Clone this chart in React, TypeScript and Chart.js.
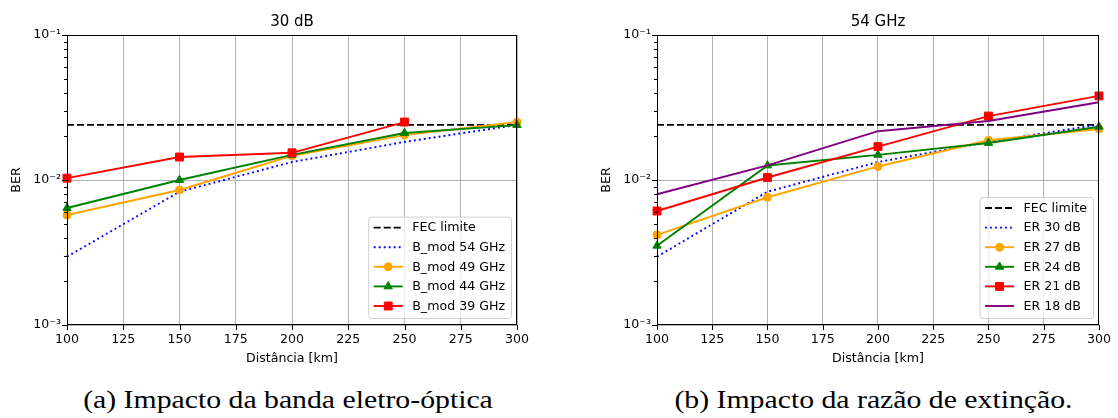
import React, { useEffect, useRef } from 'react';
import { Chart, registerables } from 'chart.js';

Chart.register(...registerables);
Chart.defaults.font.family = '"DejaVu Sans", sans-serif';
Chart.defaults.color = '#000';

// ---------- data ----------
const distances = [100, 150, 200, 250, 300];
const xTicks = [100, 125, 150, 175, 200, 225, 250, 275, 300];
const yDecades = [0.001, 0.01];
const yMax = 0.1;
const yMajorLabels = ['10⁻³', '10⁻²', '10⁻¹'];
const fecLimit = 0.024;
const fecLabel = 'FEC limite';

const leftTitle = '30 dB';
const leftLabels = ['B_mod 54 GHz', 'B_mod 49 GHz', 'B_mod 44 GHz', 'B_mod 39 GHz'];
const bmod54 = [0.00296, 0.0083, 0.0133, 0.0183, 0.024];
const bmod49 = [0.00574, 0.00853, 0.0147, 0.0204, 0.0251];
const bmod44 = [0.00641, 0.0100, 0.0149, 0.0211, 0.0239];
const bmod39 = [0.0103, 0.0144, 0.0154, 0.0251, null];

const rightTitle = '54 GHz';
const rightLabels = ['ER 30 dB', 'ER 27 dB', 'ER 24 dB', 'ER 21 dB', 'ER 18 dB'];
const er30 = [0.00296, 0.0083, 0.0133, 0.0183, 0.0241];
const er27 = [0.00418, 0.0076, 0.0124, 0.0188, 0.0225];
const er24 = [0.00352, 0.0126, 0.0149, 0.0180, 0.0233];
const er21 = [0.00611, 0.0104, 0.0170, 0.0276, 0.0380];
const er18 = [0.00797, 0.0126, 0.0217, 0.0255, 0.0344];

const xTitle = 'Distância [km]';
const yTitle = 'BER';
const captionA = '(a) Impacto da banda eletro-óptica';
const captionB = '(b) Impacto da razão de extinção.';

// ---------- styles ----------
const LW = 1.9;
const styleFec = { color: '#000000', dash: [7, 3], point: false as any, radius: 0 };
const styleBlue = { color: '#0000ff', dash: [1.9, 3.1], point: false as any, radius: 0 };
const styleOrange = { color: '#ffa500', dash: [], point: 'circle', radius: 4 };
const styleGreen = { color: '#008000', dash: [], point: 'triangle', radius: 4.8 };
const styleRed = { color: '#ff0000', dash: [], point: 'rect', radius: 5.6 };
const stylePurple = { color: '#800080', dash: [], point: false as any, radius: 0 };

function makeDataset(label: string, xs: number[], ys: (number | null)[], st: any, order: number) {
  return {
    label,
    data: xs.map((x, i) => ({ x, y: ys[i] })),
    borderColor: st.color,
    backgroundColor: st.color,
    borderWidth: LW,
    borderDash: st.dash,
    borderCapStyle: 'butt',
    pointStyle: st.point,
    pointRadius: st.radius,
    pointBorderWidth: 1,
    pointBorderColor: st.color,
    pointBackgroundColor: st.color,
    tension: 0,
    order,
    clip: 8,
  };
}

function fecDataset(order: number) {
  return makeDataset(fecLabel, [xTicks[0], xTicks[xTicks.length - 1]], [fecLimit, fecLimit], styleFec, order);
}

// ---------- plugins ----------
function drawMarker(ctx: CanvasRenderingContext2D, style: string, x: number, y: number, r: number, color: string) {
  ctx.save();
  ctx.setLineDash([]);
  ctx.fillStyle = color;
  ctx.strokeStyle = color;
  ctx.lineWidth = 1;
  ctx.beginPath();
  if (style === 'circle') {
    ctx.arc(x, y, r, 0, Math.PI * 2);
  } else if (style === 'triangle') {
    const a = (2 * Math.PI) / 3;
    ctx.moveTo(x, y - r);
    ctx.lineTo(x + Math.sin(a) * r, y - Math.cos(a) * r);
    ctx.lineTo(x + Math.sin(2 * a) * r, y - Math.cos(2 * a) * r);
    ctx.closePath();
  } else if (style === 'rect') {
    const s = r * Math.SQRT1_2;
    ctx.rect(x - s, y - s, 2 * s, 2 * s);
  }
  ctx.fill();
  ctx.stroke();
  ctx.restore();
}

const decorPlugin = {
  id: 'decor',
  afterDraw(chart: any, _args: any, opts: any) {
    const { ctx, chartArea: a, scales } = chart;
    ctx.save();
    // ticks
    ctx.strokeStyle = '#000';
    ctx.lineWidth = 1;
    ctx.setLineDash([]);
    ctx.beginPath();
    for (const t of scales.x.ticks) {
      const px = Math.round(scales.x.getPixelForValue(t.value)) + 0.5;
      ctx.moveTo(px, a.bottom);
      ctx.lineTo(px, a.bottom + 5);
    }
    for (const t of scales.y.ticks) {
      const py = Math.round(scales.y.getPixelForValue(t.value)) + 0.5;
      const len = t.major ? 5 : 3;
      ctx.moveTo(a.left - len, py);
      ctx.lineTo(a.left, py);
    }
    ctx.stroke();
    // frame
    const l = Math.round(a.left) + 0.5, r = Math.round(a.right) - 0.5;
    const tp = Math.round(a.top) + 0.5, b = Math.round(a.bottom) - 0.5;
    ctx.strokeRect(l, tp, r - l, b - tp);
    // title
    ctx.fillStyle = '#000';
    ctx.font = '15px "DejaVu Sans"';
    ctx.textAlign = 'center';
    ctx.textBaseline = 'middle';
    ctx.fillText(opts.text, (a.left + a.right) / 2, 22);

    // legend
    const ds = chart.data.datasets;
    ctx.font = '12.6px "DejaVu Sans"';
    const rowH = 19.6, padL = 5.5, handle = 29, gap = 9.5, padR = 6, padT = 11, padB = 12;
    const maxW = Math.max(...ds.map((d: any) => ctx.measureText(d.label).width));
    const w = padL + handle + gap + maxW + padR;
    const h = padT + (ds.length - 1) * rowH + padB;
    const right = a.right - 6;
    const bottom = a.bottom - 7;
    const left = right - w;
    const top = bottom - h;
    ctx.beginPath();
    ctx.roundRect(left + 0.5, top + 0.5, w, h, 3);
    ctx.fillStyle = 'rgba(255,255,255,0.8)';
    ctx.fill();
    ctx.strokeStyle = '#d0d0d0';
    ctx.lineWidth = 1;
    ctx.stroke();
    ds.forEach((d: any, i: number) => {
      const cy = top + padT + i * rowH;
      const x0 = left + padL, x1 = x0 + handle;
      ctx.save();
      ctx.strokeStyle = d.borderColor;
      ctx.lineWidth = d.borderWidth;
      ctx.setLineDash(d.borderDash || []);
      ctx.beginPath();
      ctx.moveTo(x0, cy);
      ctx.lineTo(x1, cy);
      ctx.stroke();
      ctx.restore();
      if (d.pointStyle && d.pointRadius > 0) {
        drawMarker(ctx, d.pointStyle, (x0 + x1) / 2, cy, d.pointRadius, d.borderColor);
      }
      ctx.fillStyle = '#000';
      ctx.textAlign = 'left';
      ctx.textBaseline = 'middle';
      ctx.fillText(d.label, x1 + gap, cy + 0.5);
    });
    ctx.restore();
  },
};

function buildYTicks() {
  const ticks: any[] = [];
  yDecades.forEach((d) => {
    for (let m = 1; m <= 9; m++) ticks.push({ value: m * d, major: m === 1 });
  });
  ticks.push({ value: yMax, major: true });
  return ticks;
}

function makeOptions(title: string, padLeft: number, padRight: number) {
  return {
    responsive: false,
    animation: false,
    events: [],
    layout: { padding: { left: padLeft, right: padRight, top: 35, bottom: 0 } },
    plugins: {
      legend: { display: false },
      tooltip: { enabled: false },
      title: { display: false },
      decor: { text: title },
    },
    scales: {
      x: {
        type: 'linear',
        min: xTicks[0],
        max: xTicks[xTicks.length - 1],
        afterBuildTicks: (s: any) => {
          s.ticks = xTicks.map((v) => ({ value: v }));
        },
        afterFit: (s: any) => {
          s.height = 45;
        },
        ticks: { autoSkip: false, maxRotation: 0, padding: 7, font: { size: 12.6 }, color: '#000' },
        grid: { color: '#b0b0b0', lineWidth: 1, drawTicks: false },
        border: { display: false },
        title: { display: true, text: xTitle, font: { size: 12.6 }, color: '#000', padding: { top: 0, bottom: 4 } },
      },
      y: {
        type: 'logarithmic',
        min: yDecades[0],
        max: yMax,
        afterBuildTicks: (s: any) => {
          s.ticks = buildYTicks();
        },
        afterFit: (s: any) => {
          s.width = 67;
        },
        ticks: {
          autoSkip: false,
          padding: 6,
          font: { size: 12.6 },
          color: '#000',
          callback: (_v: any, i: number, ticks: any[]) => {
            if (!ticks[i].major) return '';
            const e = Math.round(Math.log10(ticks[i].value));
            return yMajorLabels[e + 3];
          },
        },
        grid: {
          color: (c: any) => (c.tick && c.tick.major ? '#b0b0b0' : 'rgba(0,0,0,0)'),
          lineWidth: 1,
          drawTicks: false,
        },
        border: { display: false },
        title: { display: true, text: yTitle, font: { size: 12.6 }, color: '#000', padding: { top: 9, bottom: 0 } },
      },
    },
  };
}

function Panel({ left, title, datasets, padLeft, padRight }: any) {
  const ref = useRef<HTMLCanvasElement>(null);
  useEffect(() => {
    const chart = new Chart(ref.current as HTMLCanvasElement, {
      type: 'line',
      data: { datasets },
      options: makeOptions(title, padLeft, padRight) as any,
      plugins: [decorPlugin as any],
    });
    return () => chart.destroy();
  }, []);
  return (
    <canvas
      ref={ref}
      width={559}
      height={370}
      style={{ position: 'absolute', left, top: 0, width: 559, height: 370 }}
    />
  );
}

const leftDatasets = [
  fecDataset(5),
  makeDataset(leftLabels[0], distances, bmod54, styleBlue, 4),
  makeDataset(leftLabels[1], distances, bmod49, styleOrange, 3),
  makeDataset(leftLabels[2], distances, bmod44, styleGreen, 2),
  makeDataset(leftLabels[3], distances, bmod39, styleRed, 1),
];

const rightDatasets = [
  fecDataset(6),
  makeDataset(rightLabels[0], distances, er30, styleBlue, 5),
  makeDataset(rightLabels[1], distances, er27, styleOrange, 4),
  makeDataset(rightLabels[2], distances, er24, styleGreen, 3),
  makeDataset(rightLabels[3], distances, er21, styleRed, 2),
  makeDataset(rightLabels[4], distances, er18, stylePurple, 1),
];

const captionStyle: React.CSSProperties = {
  position: 'absolute',
  top: 387,
  fontFamily: '"Liberation Serif", serif',
  fontSize: 25,
  lineHeight: '25px',
  textAlign: 'center',
  whiteSpace: 'nowrap',
  color: '#000',
  transform: 'scaleX(1.19)',
  transformOrigin: 'center',
};

export default function App() {
  return (
    <div style={{ position: 'absolute', left: 0, top: 0, width: 1118, height: 418, background: '#fff', overflow: 'hidden' }}>
      <Panel left={0} title={leftTitle} datasets={leftDatasets} padLeft={0} padRight={42} />
      <Panel left={559} title={rightTitle} datasets={rightDatasets} padLeft={31} padRight={14} />
      <div style={{ ...captionStyle, left: 63, width: 450 }}>{captionA}</div>
      <div style={{ ...captionStyle, left: 650, width: 447 }}>{captionB}</div>
    </div>
  );
}
